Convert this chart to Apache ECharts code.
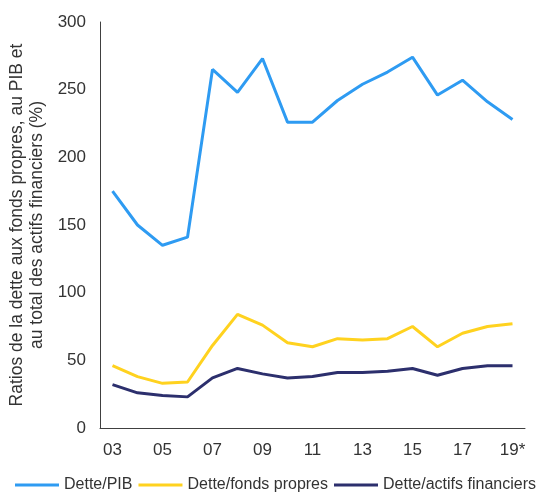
<!DOCTYPE html>
<html>
<head>
<meta charset="utf-8">
<script src="https://cdn.jsdelivr.net/npm/echarts@6/dist/echarts.min.js"></script>
<style>
  html, body { margin: 0; padding: 0; background: #fff; }
  #chart { width: 547px; height: 492px; }
</style>
</head>
<body>
<div id="chart"></div>
<script>
// Years (two-digit), 2019 is an estimate
const years = ['03','04','05','06','07','08','09','10','11','12','13','14','15','16','17','18','19*'];

// Debt ratios (%)
const detteSurPib = [175, 150, 135, 141, 265, 248, 273, 226, 226, 242, 254, 263, 274, 246, 257, 241, 228];
const detteSurFondsPropres = [46, 38, 33, 34, 61, 84, 76, 63, 60, 66, 65, 66, 75, 60, 70, 75, 77];
const detteSurActifsFinanciers = [32, 26, 24, 23, 37, 44, 40, 37, 38, 41, 41, 42, 44, 39, 44, 46, 46];

const seriesNames = ['Dette/PIB', 'Dette/fonds propres', 'Dette/actifs financiers'];
const seriesColors = ['#2E9BF2', '#FFD21F', '#2C2F6D'];

const font = 'Liberation Sans, Arial, sans-serif';
const chart = echarts.init(document.getElementById('chart'));

const mkSeries = (name, data, color) => ({
  name, type: 'line', data,
  symbol: 'none',
  lineStyle: { color, width: 3 },
  itemStyle: { color },
  animation: false
});

chart.setOption({
  animation: false,
  grid: { left: 100, right: 22, top: 22, bottom: 64, outerBoundsMode: 'none', containLabel: false },
  legend: {
    bottom: -6,
    left: 10,
    itemWidth: 44,
    itemHeight: 3,
    itemGap: 6,
    icon: 'rect',
    textStyle: { fontFamily: font, fontSize: 16, color: '#333' },
    data: seriesNames
  },
  xAxis: {
    type: 'category',
    data: years,
    boundaryGap: true,
    axisLine: { lineStyle: { color: '#404040', width: 1 } },
    axisTick: { show: false },
    axisLabel: { interval: 1, fontFamily: font, fontSize: 17, color: '#333', margin: 14 }
  },
  yAxis: {
    type: 'value',
    min: 0, max: 300, interval: 50,
    name: 'Ratios de la dette aux fonds propres, au PIB et\nau total des actifs financiers (%)',
    nameLocation: 'middle',
    nameGap: 48,
    nameTextStyle: { fontFamily: font, fontSize: 17.5, color: '#333', lineHeight: 20 },
    axisLine: { show: true, lineStyle: { color: '#404040', width: 1 } },
    axisTick: { show: false },
    splitLine: { show: false },
    axisLabel: { fontFamily: font, fontSize: 17, color: '#333', margin: 14 }
  },
  series: [
    mkSeries(seriesNames[0], detteSurPib, seriesColors[0]),
    mkSeries(seriesNames[1], detteSurFondsPropres, seriesColors[1]),
    mkSeries(seriesNames[2], detteSurActifsFinanciers, seriesColors[2])
  ]
});
</script>
</body>
</html>
